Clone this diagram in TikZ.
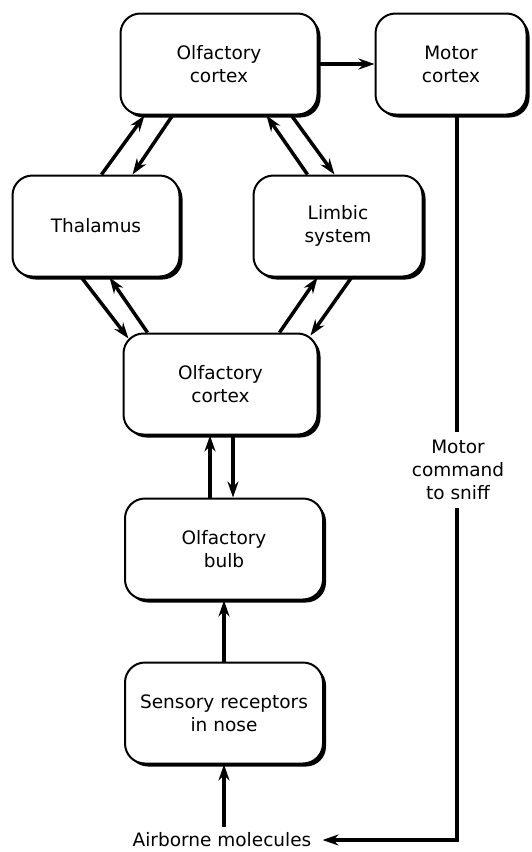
\documentclass[tikz,border=0pt]{standalone}
\usepackage{fontspec}
\setmainfont{DejaVu Sans}
\usetikzlibrary{arrows.meta,shadows,calc}
\begin{document}
\begin{tikzpicture}[x=1pt,y=-1pt,
  box/.style={draw, line width=2pt, rounded corners=20pt, fill=white, align=center, inner sep=0pt,
    font=\fontsize{18.5}{23}\selectfont,
    drop shadow={shadow xshift=3pt, shadow yshift=-3pt, fill=black, opacity=1}},
  lbl/.style={align=center, inner sep=0pt, font=\fontsize{18.5}{23}\selectfont},
  arr/.style={line width=3.5pt, -{Stealth[length=16pt,width=11pt]}},
  ln/.style={line width=3.5pt}]
\useasboundingbox (0,0) rectangle (532,852);
\fill[white] (0,0) rectangle (532,852);

\node[box, minimum width=197pt, minimum height=101pt] (oc1) at (219,64) {Olfactory\\cortex};
\node[box, minimum width=151pt, minimum height=101pt] (motor) at (451,64) {Motor\\cortex};
\node[box, minimum width=167pt, minimum height=101pt] (thal) at (96,226) {Thalamus};
\node[box, minimum width=169pt, minimum height=101pt] (limbic) at (338,226) {Limbic\\system};
\node[box, minimum width=194pt, minimum height=101pt] (oc2) at (220.5,384) {Olfactory\\cortex};
\node[box, minimum width=198pt, minimum height=101pt] (bulb) at (224,549) {Olfactory\\bulb};
\node[box, minimum width=198pt, minimum height=101pt] (sens) at (224,713) {Sensory receptors\\in nose};

\node[lbl, inner ysep=8pt] (cmd) at (458,470) {Motor\\command\\to sniff};
\node[lbl, inner xsep=11pt] (air) at (222,840) {Airborne molecules};

% top cortex -> motor cortex
\draw[arr] (oc1.east) -- (motor.west);
% thalamus <-> top cortex
\draw[arr] ([xshift=90pt]thal.north west) -- ([xshift=25pt]oc1.south west);
\draw[arr] ([xshift=53pt]oc1.south west) -- ([xshift=121pt]thal.north west);
% limbic <-> top cortex
\draw[arr] ([xshift=55pt]limbic.north west) -- ([xshift=147pt]oc1.south west);
\draw[arr] ([xshift=172pt]oc1.south west) -- ([xshift=82pt]limbic.north west);
% thalamus <-> middle cortex
\draw[arr] ([xshift=70pt]thal.south west) -- ([xshift=6pt,yshift=-6pt]oc2.north west);
\draw[arr] ([xshift=25pt]oc2.north west) -- ([xshift=98pt]thal.south west);
% limbic <-> middle cortex
\draw[arr] ([xshift=157pt]oc2.north west) -- ([xshift=65pt]limbic.south west);
\draw[arr] ([xshift=99pt]limbic.south west) -- ([xshift=-8pt,yshift=-3pt]oc2.north east);
% bulb <-> middle cortex
\coordinate (b1) at ([xshift=-14pt]bulb.north);
\coordinate (b2) at ([xshift=9pt]bulb.north);
\draw[arr] (b1) -- (b1 |- oc2.south);
\draw[arr] (b2 |- oc2.south) -- (b2);
% receptors -> bulb
\draw[arr] (sens.north) -- (bulb.south);
% airborne -> receptors
\draw[arr] ([yshift=6pt]sens.south |- air.north) -- (sens.south);
% motor command
\coordinate (m0) at ([xshift=6pt]motor.south);
\draw[ln] (m0) -- (m0 |- cmd.north);
\draw[arr] (m0 |- cmd.south) -- (m0 |- air.east) -- (air.east);
\end{tikzpicture}
\end{document}
